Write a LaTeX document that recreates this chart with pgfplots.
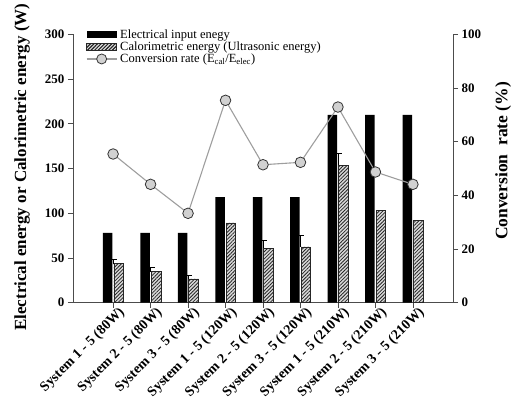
\documentclass[border=0pt]{standalone}
\usepackage{fontspec}
\setmainfont{Liberation Serif}
\usepackage{pgfplots}
\usepackage{pgfplotstable}
\pgfplotsset{compat=1.18}
\usetikzlibrary{patterns.meta}

% x  elec: electrical input (W), cal: calorimetric energy (W), conv: conversion rate (%)
\pgfplotstableread{
x elec cal conv
0 78  43.6 55.4
1 78  34.6 44.1
2 78  26.5 33.3
3 118 89.1 75.4
4 118 61.1 51.4
5 118 62.3 52.3
6 210 153.6 72.9
7 210 102.8 48.7
8 210 92.4 44.1
}\energy

% upper error of the calorimetric measurements
\pgfplotstableread{
x cal err
0 43.6 4.9
1 34.6 4.5
2 26.5 4.1
4 61.1 9.0
5 62.3 12.6
6 153.6 13.4
}\calerr

\definecolor{linegray}{gray}{0.62}
\definecolor{markgray}{gray}{0.82}
\definecolor{axisgray}{gray}{0.3}

\tikzset{
  hatchbar/.style={draw=black!85, line width=0.6pt, fill=black!15,
    postaction={pattern={Lines[angle=45, distance=2.5pt, line width=0.8pt]},
      pattern color=black!85}},
}

\pgfplotsset{
  common/.style={
    scale only axis, width=380pt, height=268.4pt,
    xmin=-1.07, xmax=9.07,
    tick align=outside, major tick length=5pt,
    every tick/.style={axisgray, line width=0.7pt},
    axis line style={axisgray, line width=0.7pt},
    /pgf/number format/assume math mode=true,
    tick label style={font=\fontsize{13}{15}\selectfont\bfseries},
    label style={font=\fontsize{17.5}{19}\selectfont\bfseries},
  }
}

\begin{document}
\begin{tikzpicture}
\useasboundingbox (-73pt,-107.3pt) rectangle (442pt,302.7pt);
\begin{axis}[
  common,
  ymin=0, ymax=300, ytick={0,50,...,300},
  axis x line*=bottom, axis y line*=left,
  xtick={0,...,8},
  xticklabels={System 1 - 5 (80W),System 2 - 5 (80W),System 3 - 5 (80W),
    System 1 - 5 (120W),System 2 - 5 (120W),System 3 - 5 (120W),
    System 1 - 5 (210W),System 2 - 5 (210W),System 3 - 5 (210W)},
  x tick label style={rotate=45, anchor=north east, inner sep=1pt, xshift=6pt,
    yshift=-1pt, font=\fontsize{14}{16}\selectfont\bfseries},
  ylabel={Electrical energy or Calorimetric energy (W)},
  ylabel style={at={(axis description cs:-0.134,0.505)}, anchor=center,
    font=\fontsize{17}{19}\selectfont\bfseries},
  legend style={at={(axis description cs:0.034,1.02)}, anchor=north west,
    draw=none, fill=none, inner sep=0pt, row sep=1.2pt,
    font=\fontsize{12.5}{13.5}\selectfont,
    nodes={inner ysep=0.4pt, inner xsep=3pt}},
  legend cell align=left,
]
\addplot[ybar, bar width=9.5pt, bar shift=-5.5pt, fill=black, draw=none,
  legend image code/.code={\fill[black] (0pt,-3.2pt) rectangle (30pt,3.2pt);}]
  table[x=x, y=elec]{\energy};
\addlegendentry{Electrical input enegy}
\addplot[ybar, bar width=9.5pt, bar shift=5.5pt, hatchbar,
  legend image code/.code={\draw[hatchbar] (0pt,-3.2pt) rectangle (30pt,3.2pt);}]
  table[x=x, y=cal]{\energy};
\addlegendentry{Calorimetric energy (Ultrasonic energy)}
\addplot[ybar, bar width=9.5pt, bar shift=5.5pt, draw=none, fill=none, forget plot,
  error bars/.cd, y dir=plus, y explicit,
  error bar style={black, line width=0.7pt},
  error mark options={black, line width=0.7pt, mark size=4pt, rotate=90}]
  table[x=x, y=cal, y error=err]{\calerr};
\addlegendimage{legend image code/.code={
  \draw[linegray, line width=1.1pt] (0pt,0pt) -- (30pt,0pt);
  \draw[black!80, fill=markgray, line width=0.8pt] (15pt,0pt) circle (5pt);}}
\addlegendentry{Conversion rate (E\textsubscript{cal}/E\textsubscript{elec})}
\end{axis}

\begin{axis}[
  common,
  ymin=0, ymax=100, ytick={0,20,...,100},
  axis x line=none, axis y line*=right,
  ylabel={Conversion\ \ rate (\%)},
  ylabel style={at={(axis description cs:1.132,0.528)}, anchor=center, rotate=0},
]
\addplot[linegray, line width=1.1pt, mark=*, mark size=5.3pt,
  mark options={fill=markgray, draw=black!80, line width=0.8pt}]
  table[x=x, y=conv]{\energy};
\end{axis}
\end{tikzpicture}
\end{document}
